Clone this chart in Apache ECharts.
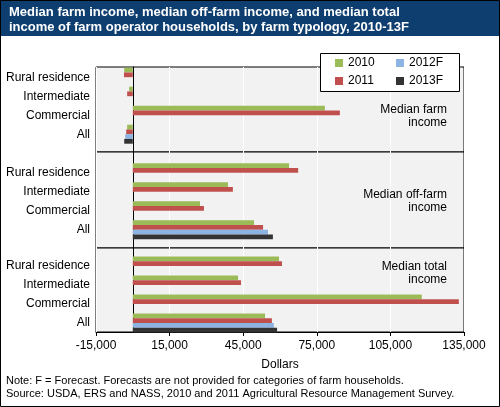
<!DOCTYPE html>
<html>
<head>
<meta charset="utf-8">
<script src="https://cdn.jsdelivr.net/npm/echarts@6/dist/echarts.min.js"></script>
<style>
  html, body { margin: 0; padding: 0; background: #fff; }
  #chart { width: 500px; height: 407px; }
</style>
</head>
<body>
<div id="chart"></div>
<script>
  const categories = ["Rural residence", "Intermediate", "Commercial", "All"];
  const seriesNames = ["2010", "2011", "2012F", "2013F"];
  const colors = ["#9bbb59", "#c0504d", "#8db3e2", "#333333"];
  const panelLabels = ["Median farm\nincome", "Median off-farm\nincome", "Median total\nincome"];

  // [Rural residence, Intermediate, Commercial, All] per year
  const farmIncome = {
    "2010": [-3500, -1500, 78300, -2300],
    "2011": [-3600, -2300, 84400, -2700],
    "2012F": [null, null, null, -3100],
    "2013F": [null, null, null, -3500]
  };
  const offFarmIncome = {
    "2010": [63700, 38800, 27400, 49400],
    "2011": [67400, 40800, 29000, 53100],
    "2012F": [null, null, null, 55100],
    "2013F": [null, null, null, 57100]
  };
  const totalIncome = {
    "2010": [59600, 42900, 117800, 53900],
    "2011": [60800, 44100, 132900, 56700],
    "2012F": [null, null, null, 57500],
    "2013F": [null, null, null, 58800]
  };
  const panelData = [farmIncome, offFarmIncome, totalIncome];

  const FONT = "Liberation Sans, Arial, sans-serif";
  const xMin = -15000, xMax = 135000, xStep = 30000;
  const left = 96, right = 36;
  const panels = [
    { top: 67, bottom: 152, barTop: 67.7 },
    { top: 152, bottom: 248, barTop: 163.3 },
    { top: 248, bottom: 332, barTop: 256.5 }
  ];

  const grids = [], xAxes = [], yAxes = [], series = [];

  panels.forEach((p, i) => {
    // background panel grid
    grids.push({ left, right, top: p.top, height: p.bottom - p.top, show: true,
      backgroundColor: "#f2f2f2", borderColor: "#000", borderWidth: 1 });
    const last = i === panels.length - 1;
    xAxes.push({ type: "value", gridIndex: grids.length - 1, min: xMin, max: xMax, interval: xStep,
      axisLine: { show: last, lineStyle: { color: "#000" } },
      axisTick: { show: last, length: 4, lineStyle: { color: "#000" } },
      axisLabel: { show: last, color: "#000", fontFamily: FONT, fontSize: 12,
        formatter: (v) => v.toLocaleString("en-US") },
      splitLine: { show: true, lineStyle: { color: "#fff", width: 1 } },
      name: last ? "Dollars" : "", nameLocation: "middle", nameGap: 27,
      nameTextStyle: { color: "#000", fontFamily: FONT, fontSize: 12 } });
    yAxes.push({ type: "value", gridIndex: grids.length - 1, min: 0, max: 1,
      axisLine: { show: true, onZero: true, lineStyle: { color: "#000" } },
      axisTick: { show: false }, axisLabel: { show: false }, splitLine: { show: false } });
    series.push({ type: "line", xAxisIndex: xAxes.length - 1, yAxisIndex: yAxes.length - 1, data: [], silent: true });

    // bar grid
    grids.push({ left, right, top: p.barTop, height: 76 });
    xAxes.push({ type: "value", gridIndex: grids.length - 1, min: xMin, max: xMax, interval: xStep,
      show: false, splitLine: { show: false } });
    yAxes.push({ type: "category", gridIndex: grids.length - 1, data: categories, inverse: true,
      axisLine: { show: false }, axisTick: { show: false },
      axisLabel: { color: "#000", fontFamily: FONT, fontSize: 12, margin: 6 } });
    seriesNames.forEach((name, k) => {
      series.push({ type: "bar", name, xAxisIndex: xAxes.length - 1, yAxisIndex: yAxes.length - 1,
        data: panelData[i][name], itemStyle: { color: colors[k] },
        barGap: "0%", barCategoryGap: "0%", silent: true });
    });
  });

  const graphics = [
    { type: "rect", shape: { x: 0, y: 0, width: 500, height: 36 }, style: { fill: "#0e3e6f" } },
    { type: "text", left: 9, top: 5, style: { text: "Median farm income, median off-farm income, and median total\nincome of farm operator households, by farm typology, 2010-13F",
      fill: "#fff", font: "bold 13px " + FONT, lineHeight: 15 } },
    { type: "text", left: 6, top: 374, style: { text: "Note: F = Forecast. Forecasts are not provided for categories of farm households.\nSource: USDA, ERS and NASS, 2010 and 2011 Agricultural Resource Management Survey.",
      fill: "#000", font: "11px " + FONT, lineHeight: 13 } },
    { type: "rect", shape: { x: 320.5, y: 53.5, width: 139, height: 38 }, style: { fill: "#fff", stroke: "#000", lineWidth: 1 }, z: 55 },
    { type: "rect", shape: { x: 0.5, y: 0.5, width: 499, height: 406 }, style: { fill: "none", stroke: "#000", lineWidth: 1 }, z: 100 }
  ];
  const labelY = [103, 188, 260];
  panelLabels.forEach((t, i) => {
    graphics.push({ type: "text", x: 447, y: labelY[i], style: { text: t, align: "right", fill: "#000",
      font: "12px " + FONT, lineHeight: 13 }, z: 50 });
  });

  const legendBase = { orient: "vertical", top: 57, itemWidth: 8, itemHeight: 8, itemGap: 6, icon: "rect",
    padding: 0, textStyle: { color: "#000", fontFamily: FONT, fontSize: 12 }, z: 60 };

  const chart = echarts.init(document.getElementById("chart"), null, { renderer: "canvas" });
  chart.setOption({
    animation: false,
    legend: [
      Object.assign({}, legendBase, { data: ["2010", "2011"], left: 335 }),
      Object.assign({}, legendBase, { data: ["2012F", "2013F"], left: 396 })
    ],
    grid: grids, xAxis: xAxes, yAxis: yAxes, series, graphic: graphics
  });
</script>
</body>
</html>
